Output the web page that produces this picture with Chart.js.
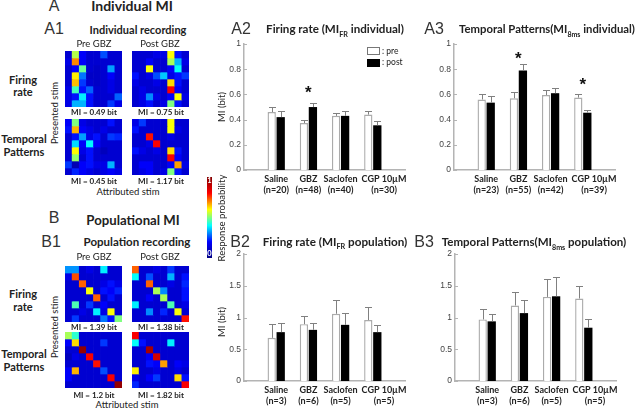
<!DOCTYPE html>
<html>
<head>
<meta charset="utf-8">
<script src="https://cdn.jsdelivr.net/npm/chart.js@4/dist/chart.umd.min.js"></script>
<style>
    html, body { margin: 0; padding: 0; background: #fff; }
    #page { position: relative; width: 640px; height: 409px; overflow: hidden; font-family: Lato, sans-serif; color: #222; }
    #page canvas { position: absolute; }
    #page canvas.cells { filter: blur(0.4px); }
    .txt { position: absolute; white-space: nowrap; line-height: 1; transform: translate(-50%, -50%); }
    .left { transform: translate(0, -50%); }
    .rot { transform: translate(-50%, -50%) rotate(-90deg); }
    .b { font-weight: 700; }
    .panel { font-family: "Liberation Sans", sans-serif; color: #333; }
    sub { font-size: 0.62em; line-height: 0; }
    .box { position: absolute; width: 11px; height: 6px; box-sizing: content-box; }
    #colorbar { position: absolute; left: 207px; top: 177px; width: 5px; height: 81px;
        background: linear-gradient(to bottom, #800000, #ff0000, #ffff00, #00ffff, #0000ff, #000080); }
</style>
</head>
<body>
<div id="page"></div>
<script>
// Bar chart data
const groupsA2 = ['Saline|(n=20)', 'GBZ|(n=48)', 'Saclofen|(n=40)', 'CGP 10µM|(n=30)'];
const groupsA3 = ['Saline|(n=23)', 'GBZ|(n=55)', 'Saclofen|(n=42)', 'CGP 10µM|(n=39)'];
const groupsB = ['Saline|(n=3)', 'GBZ|(n=6)', 'Saclofen|(n=5)', 'CGP 10µM|(n=5)'];
const labelSlots = [1, 2, 3, 4.35]; // last label sits right of its bars in the original
const ticksA = [0, 0.2, 0.4, 0.6, 0.8, 1];
const ticksB = [0, 0.5, 1, 1.5, 2];

const preA2 = [0.46, 0.373, 0.43, 0.44];
const postA2 = [0.42, 0.50, 0.43, 0.355];
const preTopA2 = [0.50, 0.40, 0.454, 0.467];
const postTopA2 = [0.467, 0.53, 0.467, 0.39];
const starsA2 = [null, 0.63, null, null];

const preA3 = [0.56, 0.57, 0.595, 0.575];
const postA3 = [0.535, 0.79, 0.61, 0.455];
const preTopA3 = [0.605, 0.62, 0.635, 0.605];
const postTopA3 = [0.585, 0.84, 0.655, 0.475];
const starsA3 = [null, 0.90, null, 0.695];

const preB2 = [0.68, 0.895, 1.06, 0.96];
const postB2 = [0.77, 0.806, 0.885, 0.77];
const preTopB2 = [0.895, 1.03, 1.28, 1.17];
const postTopB2 = [0.91, 0.92, 1.07, 0.89];

const preB3 = [0.97, 1.19, 1.325, 1.30];
const postB3 = [0.94, 1.07, 1.335, 0.84];
const preTopB3 = [1.135, 1.40, 1.60, 1.50];
const postTopB3 = [1.05, 1.28, 1.64, 0.98];

// Confusion matrices, response probability per cell (row = presented, col = attributed)
const indFrPre = [
    [.08, .55, .12, .08, .08, .20, .08, .08],
    [.10, .74, .12, .08, .08, .08, .08, .08],
    [.08, .12, .48, .08, .07, .08, .28, .08],
    [.08, .64, .24, .07, .07, .08, .12, .08],
    [.08, .69, .18, .08, .07, .08, .10, .08],
    [.10, .44, .14, .22, .08, .08, .10, .08],
    [.10, .14, .36, .14, .08, .08, .08, .22],
    [.10, .30, .30, .14, .08, .08, .18, .10]
];
const indFrPost = [
    [.08, .08, .08, .10, .10, .62, .14, .08],
    [.08, .08, .12, .08, .08, .54, .30, .10],
    [.08, .08, .62, .08, .08, .12, .38, .08],
    [.14, .08, .10, .20, .32, .10, .14, .18],
    [.10, .08, .08, .10, .08, .66, .14, .08],
    [.08, .10, .08, .08, .08, .88, .12, .08],
    [.08, .10, .26, .10, .08, .12, .62, .10],
    [.08, .10, .14, .08, .10, .50, .14, .08]
];
const indTpPre = [
    [.12, .50, .10, .08, .08, .08, .14, .08],
    [.14, .70, .12, .10, .08, .10, .08, .08],
    [.08, .14, .28, .10, .14, .08, .18, .16],
    [.08, .34, .12, .37, .12, .08, .08, .08],
    [.08, .63, .10, .14, .08, .06, .08, .08],
    [.08, .52, .08, .14, .08, .08, .08, .08],
    [.18, .05, .12, .14, .10, .10, .30, .08],
    [.08, .16, .12, .10, .08, .10, .12, .10]
];
const indTpPost = [
    [.10, .18, .08, .08, .08, .62, .08, .08],
    [.14, .08, .08, .08, .08, .62, .10, .08],
    [.08, .08, .86, .08, .08, .10, .08, .08],
    [.08, .08, .10, .88, .08, .08, .08, .08],
    [.14, .10, .08, .10, .08, .66, .14, .08],
    [.08, .08, .08, .08, .08, .88, .12, .08],
    [.08, .12, .12, .08, .08, .12, .72, .10],
    [.08, .10, .12, .08, .10, .50, .14, .08]
];
const popFrPre = [
    [.27, .27, .08, .10, .08, .36, .08, .08],
    [.10, .80, .08, .08, .08, .08, .08, .08],
    [.08, .08, .78, .08, .08, .10, .14, .10],
    [.08, .08, .08, .62, .08, .14, .12, .16],
    [.08, .08, .08, .08, .78, .08, .14, .08],
    [.08, .45, .08, .18, .08, .12, .08, .08],
    [.08, .08, .10, .08, .36, .10, .62, .08],
    [.08, .18, .08, .08, .08, .24, .14, .50]
];
const popFrPost = [
    [.78, .08, .08, .10, .08, .18, .08, .08],
    [.38, .08, .20, .08, .08, .30, .08, .14],
    [.08, .08, .78, .08, .08, .10, .08, .16],
    [.08, .08, .08, .54, .26, .08, .08, .14],
    [.08, .08, .12, .08, .54, .08, .08, .14],
    [.36, .08, .08, .08, .08, .45, .08, .10],
    [.08, .08, .26, .08, .16, .08, .62, .08],
    [.08, .08, .08, .08, .08, .08, .08, .86]
];
const popTpPre = [
    [.54, .42, .08, .08, .08, .08, .08, .08],
    [.12, .66, .08, .08, .08, .18, .08, .08],
    [.08, .08, .98, .08, .08, .08, .08, .08],
    [.06, .10, .08, .88, .08, .08, .08, .08],
    [.08, .08, .08, .08, .86, .08, .08, .08],
    [.12, .70, .08, .08, .08, .20, .08, .08],
    [.12, .08, .08, .08, .08, .08, .88, .08],
    [.08, .08, .08, .08, .08, .08, .08, .98]
];
const popTpPost = [
    [.88, .08, .08, .08, .08, .08, .08, .08],
    [.38, .14, .08, .08, .08, .36, .08, .08],
    [.08, .08, .96, .08, .08, .08, .08, .08],
    [.08, .08, .12, .92, .08, .08, .08, .08],
    [.08, .08, .14, .12, .72, .08, .12, .10],
    [.64, .08, .08, .10, .08, .08, .10, .08],
    [.10, .08, .12, .18, .08, .08, .66, .14],
    [.16, .08, .08, .08, .08, .08, .08, .88]
];

const page = document.getElementById('page');
const axisGrey = '#b4b4b4';

function addCanvas(left, top, width, height) {
    const canvas = document.createElement('canvas');
    canvas.style.left = left + 'px';
    canvas.style.top = top + 'px';
    canvas.style.width = width + 'px';
    canvas.style.height = height + 'px';
    canvas.width = width;
    canvas.height = height;
    page.appendChild(canvas);
    return canvas;
}

function addText(html, x, y, size, cls) {
    const el = document.createElement('div');
    el.className = 'txt ' + (cls || '');
    el.style.left = x + 'px';
    el.style.top = y + 'px';
    el.style.fontSize = size + 'px';
    el.innerHTML = html;
    page.appendChild(el);
    return el;
}

// Two centered lines of row label
function addRowLabel(html, x, y, lineHeight) {
    const el = addText(html, x, y, 11, 'b');
    el.style.lineHeight = lineHeight + 'px';
    el.style.textAlign = 'center';
}

// Jet colormap
function jet(t) {
    const f = v => Math.round(255 * Math.max(0, Math.min(1, 1.5 - Math.abs(4 * t - v))));
    return 'rgb(' + f(3) + ',' + f(2) + ',' + f(1) + ')';
}

// Heat map: every row is one stacked dataset of unit-height bars
function heatmap(matrix, left, top) {
    const columns = matrix[0].map((v, i) => i);
    const canvas = addCanvas(left, top, 57, 56);
    canvas.className = 'cells';
    new Chart(canvas, {
        type: 'bar',
        data: {
            labels: columns,
            datasets: matrix.map(row => ({
                data: row.map(() => 1),
                backgroundColor: row.map(jet),
                borderWidth: 0,
                barPercentage: 1,
                categoryPercentage: 1
            }))
        },
        options: {
            responsive: false,
            animation: false,
            plugins: { legend: { display: false }, tooltip: { enabled: false } },
            scales: {
                x: { display: false, stacked: true },
                y: { display: false, stacked: true, min: 0, max: 8, reverse: true }
            }
        }
    });
}

// Upper error bars, inner y ticks and significance stars
const decorations = {
    id: 'decorations',
    afterDatasetsDraw(chart, args, opts) {
        const ctx = chart.ctx;
        const x = chart.scales.x;
        const y = chart.scales.y;
        ctx.save();
        ctx.strokeStyle = '#808080';
        ctx.lineWidth = 1;
        opts.tops.forEach((tops, d) => {
            chart.getDatasetMeta(d).data.forEach((bar, i) => {
                const py = Math.round(y.getPixelForValue(tops[i])) + 0.5;
                const px = Math.round(bar.x) + 0.5;
                ctx.beginPath();
                ctx.moveTo(px, bar.y);
                ctx.lineTo(px, py);
                ctx.moveTo(px - 3.5, py);
                ctx.lineTo(px + 3.5, py);
                ctx.stroke();
            });
        });
        ctx.strokeStyle = axisGrey;
        y.ticks.forEach(t => {
            const py = Math.round(y.getPixelForValue(t.value)) + 0.5;
            ctx.beginPath();
            ctx.moveTo(x.left, py);
            ctx.lineTo(x.left + 3, py);
            ctx.stroke();
        });
        ctx.fillStyle = '#111';
        ctx.font = '700 17px "Liberation Sans"';
        ctx.textAlign = 'center';
        ctx.textBaseline = 'middle';
        opts.stars.forEach((s, i) => {
            if (s !== null) ctx.fillText('*', x.getPixelForValue(i + 1), y.getPixelForValue(s) + 3);
        });
        ctx.restore();
    }
};

// Grouped bars on a linear x axis running 0..5, axis box placed at (left, top, 161 x plotH)
function barChart(left, top, plotH, groups, yTicks, yMax, pre, post, preTop, postTop, stars) {
    const toPoints = values => values.map((v, i) => ({ x: i + 1, y: v }));
    new Chart(addCanvas(left - 32, top - 7, 32 + 161 + 16, 7 + plotH + 34), {
        type: 'bar',
        data: {
            datasets: [
                {
                    label: 'pre',
                    data: toPoints(pre),
                    backgroundColor: '#fff',
                    borderColor: '#ababab',
                    borderWidth: 1.4,
                    barPercentage: 0.92,
                    categoryPercentage: 0.56
                },
                {
                    label: 'post',
                    data: toPoints(post),
                    backgroundColor: '#000',
                    borderColor: '#000',
                    borderWidth: 0,
                    barPercentage: 0.92,
                    categoryPercentage: 0.56
                }
            ]
        },
        options: {
            responsive: false,
            animation: false,
            layout: { padding: { top: 7, right: 16, left: 0, bottom: 0 } },
            plugins: {
                legend: { display: false },
                tooltip: { enabled: false },
                decorations: { tops: [preTop, postTop], stars: stars }
            },
            scales: {
                x: {
                    type: 'linear',
                    offset: false,
                    min: 0,
                    max: 5,
                    afterBuildTicks(axis) {
                        axis.ticks = labelSlots.map(v => ({ value: v }));
                    },
                    afterFit(axis) { axis.height = 34; },
                    grid: { display: false, drawTicks: false },
                    border: { color: axisGrey, width: 1.5 },
                    ticks: {
                        autoSkip: false,
                        maxRotation: 0,
                        padding: 3,
                        color: '#222',
                        font: { family: 'Lato', size: 9, weight: '700', lineHeight: 1.3 },
                        callback: value => groups[labelSlots.indexOf(value)].split('|')
                    }
                },
                y: {
                    min: 0,
                    max: yMax,
                    afterBuildTicks(axis) {
                        axis.ticks = yTicks.map(v => ({ value: v }));
                    },
                    afterFit(axis) { axis.width = 32; },
                    grid: { display: false, drawTicks: false },
                    border: { color: axisGrey, width: 1.5 },
                    ticks: {
                        padding: 3,
                        color: '#444',
                        font: { family: 'Liberation Sans', size: 8.5 },
                        callback: value => String(value)
                    }
                }
            }
        },
        plugins: [decorations]
    });
}

document.addEventListener('DOMContentLoaded', function() {
    heatmap(indFrPre, 65, 51);
    heatmap(indFrPost, 132, 51);
    heatmap(indTpPre, 65, 119);
    heatmap(indTpPost, 132, 119);
    heatmap(popFrPre, 65, 266);
    heatmap(popFrPost, 132, 266);
    heatmap(popTpPre, 65, 332);
    heatmap(popTpPost, 132, 332);

    barChart(244, 43, 127, groupsA2, ticksA, 1, preA2, postA2, preTopA2, postTopA2, starsA2);
    barChart(454, 43, 127, groupsA3, ticksA, 1, preA3, postA3, preTopA3, postTopA3, starsA3);
    barChart(244, 253, 128, groupsB, ticksB, 2, preB2, postB2, preTopB2, postTopB2, [null, null, null, null]);
    barChart(455, 253, 128, groupsB, ticksB, 2, preB3, postB3, preTopB3, postTopB3, [null, null, null, null]);

    // Section and panel headings
    addText('A', 54, 6, 16, 'panel');
    addText('Individual MI', 132, 6, 14, 'b');
    addText('A1', 54, 29, 16, 'panel');
    addText('Individual recording', 138, 29, 11, 'b');
    addText('B', 54, 218, 16, 'panel');
    addText('Populational MI', 133, 221, 13.2, 'b');
    addText('B1', 51, 242, 16, 'panel');
    addText('Population recording', 137, 242, 11.5, 'b');
    addText('A2', 241, 29, 16, 'panel');
    addText('Firing rate (MI<sub>FR</sub> individual)', 335, 29, 11.6, 'b');
    addText('A3', 434, 29, 16, 'panel');
    addText('Temporal Patterns(MI<sub>8ms</sub> individual)', 547, 29, 11.3, 'b');
    addText('B2', 240, 242, 16, 'panel');
    addText('Firing rate (MI<sub>FR</sub> population)', 335, 242, 11.7, 'b');
    addText('B3', 424, 242, 16, 'panel');
    addText('Temporal Patterns(MI<sub>8ms</sub> population)', 534, 242, 11.5, 'b');

    // Heat map labels
    [44, 257].forEach(y => {
        addText('Pre GBZ', 94, y, 9.5);
        addText('Post GBZ', 160, y, 9.5);
    });
    addRowLabel('Firing<br>rate', 23, 85.5, 12.5);
    addRowLabel('Temporal<br>Patterns', 24, 145, 13);
    addRowLabel('Firing<br>rate', 23, 300, 12.5);
    addRowLabel('Temporal<br>Patterns', 24, 359.5, 13);
    addText('Presented stim', 55, 113, 9.5, 'rot');
    addText('Presented stim', 55, 327, 9.5, 'rot');
    addText('Attributed stim', 128, 192, 9.5);
    addText('Attributed stim', 127, 405, 9.5);

    addText('MI = 0.49 bit', 94, 112, 8, 'b');
    addText('MI = 0.75 bit', 161, 112, 8, 'b');
    addText('MI = 0.45 bit', 94, 181, 8, 'b');
    addText('MI = 1.17 bit', 161, 181, 8, 'b');
    addText('MI = 1.39 bit', 94, 327, 8, 'b');
    addText('MI = 1.38 bit', 161, 327, 8, 'b');
    addText('MI = 1.2 bit', 94, 395, 8, 'b');
    addText('MI = 1.82 bit', 161, 395, 8, 'b');

    // Color bar
    const bar = document.createElement('div');
    bar.id = 'colorbar';
    page.appendChild(bar);
    addText('1', 209.5, 181, 7.5, 'b').style.color = '#fff';
    addText('0', 209.5, 254, 7.5, 'b').style.color = '#fff';
    addText('Response probability', 222, 218, 9.5, 'rot');

    // Y axis titles
    addText('MI (bit)', 222, 107, 9.5, 'rot');
    addText('MI (bit)', 222, 322, 9.5, 'rot');

    // Legend of A2
    const preBox = document.createElement('div');
    preBox.className = 'box';
    preBox.style.cssText = 'left:367px;top:47px;border:1px solid #777;background:#fff';
    page.appendChild(preBox);
    const postBox = document.createElement('div');
    postBox.className = 'box';
    postBox.style.cssText = 'left:367px;top:59px;border:1px solid #000;background:#000';
    page.appendChild(postBox);
    addText(': pre', 382, 51, 8.5, 'left');
    addText(': post', 382, 62, 8.5, 'left');
});
</script>
</body>
</html>
